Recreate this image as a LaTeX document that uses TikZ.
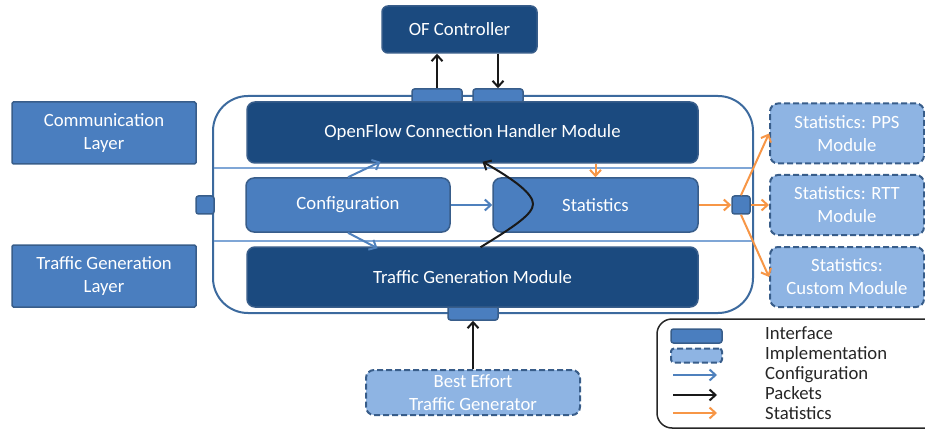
\documentclass[tikz,border=0pt]{standalone}
\usepackage{fontspec}
\setmainfont{Carlito}
\usepackage{tikz}
\usetikzlibrary{arrows.meta, calc}
\definecolor{ModDark}{HTML}{1B4A7F}
\definecolor{ModMid}{HTML}{4A7EBF}
\definecolor{ModLight}{HTML}{8EB4E3}
\definecolor{EdgeBlue}{HTML}{385D8A}
\definecolor{FrameBlue}{HTML}{3C6A9E}
\definecolor{SepBlue}{HTML}{7FA6D6}
\definecolor{CfgBlue}{HTML}{4F81BD}
\definecolor{StatOrange}{HTML}{F79646}
\definecolor{LegendText}{HTML}{262626}
\tikzset{
  darkbox/.style={rectangle, rounded corners=8pt, draw=EdgeBlue, line width=1.5pt, fill=ModDark, text=white, font=\fontsize{18.7}{23}\selectfont, align=center, inner sep=2pt},
  midbox/.style={rectangle, rounded corners=8pt, draw=EdgeBlue, line width=1.5pt, fill=ModMid, text=white, font=\fontsize{18.7}{23}\selectfont, align=center, inner sep=2pt},
  layerbox/.style={midbox, rounded corners=1.5pt},
  implbox/.style={rectangle, rounded corners=8pt, draw=EdgeBlue, line width=2pt, dash pattern=on 6pt off 3pt, fill=ModLight, text=white, font=\fontsize{18.7}{23}\selectfont, align=center, inner sep=2pt},
  ifacebox/.style={rectangle, rounded corners=2.5pt, draw=EdgeBlue, line width=1.5pt, fill=ModMid, inner sep=0pt},
  cfgarrow/.style={-{Straight Barb[length=6pt,width=11pt]}, line width=2pt, CfgBlue},
  pktarrow/.style={-{Straight Barb[length=6pt,width=11pt]}, line width=2pt, black!90},
  statarrow/.style={-{Straight Barb[length=6pt,width=11pt]}, line width=2pt, StatOrange},
  legendtext/.style={anchor=base west, inner sep=0pt, text=LegendText, font=\fontsize{18.7}{20}\selectfont}
}

\begin{document}
\begin{tikzpicture}[x=1pt, y=-1pt]
  \useasboundingbox (0,0) rectangle (925,430);

  % Controller
  \node[darkbox, rounded corners=6pt, minimum width=155pt, minimum height=47pt] (ctrl) at (459.5,29.5) {OF Controller};

  % Container
  \node[rectangle, rounded corners=35pt, draw=FrameBlue, line width=2pt, fill=white, minimum width=540pt, minimum height=217pt] (frame) at (483,204.5) {};
  \draw[SepBlue, line width=1.2pt] (214,168) -- (752,168);
  \draw[SepBlue, line width=1.2pt] (214,241) -- (752,241);

  % Interfaces
  \node[ifacebox, minimum width=50pt, minimum height=14pt] (ifup) at (437,96) {};
  \node[ifacebox, minimum width=50pt, minimum height=14pt] (ifdown) at (498,96) {};
  \node[ifacebox, minimum width=50pt, minimum height=14pt] (ifbottom) at (473,313) {};
  \node[ifacebox, minimum width=18pt, minimum height=18pt] (ifleft) at (205,205) {};
  \node[ifacebox, minimum width=18pt, minimum height=18pt] (ifright) at (741,205) {};

  % Modules
  \node[darkbox, minimum width=451pt, minimum height=61pt] (ofch) at (472.5,132.5) {OpenFlow Connection Handler Module};
  \node[midbox, minimum width=204pt, minimum height=54pt] (config) at (348,205) {Configuration};
  \node[midbox, minimum width=205pt, minimum height=54pt] (stats) at (595.5,205) {Statistics};
  \node[darkbox, minimum width=451pt, minimum height=60pt] (tgm) at (472.5,277) {Traffic Generation Module};

  % Layers
  \node[layerbox, minimum width=184pt, minimum height=62pt] (commlayer) at (104,133) {Communication\\Layer};
  \node[layerbox, minimum width=184pt, minimum height=62pt] (tglayer) at (104,276) {Traffic Generation\\Layer};

  % Implementations
  \node[implbox, minimum width=154pt, minimum height=60pt] (pps) at (847,133.5) {Statistics: PPS\\Module};
  \node[implbox, minimum width=154pt, minimum height=60pt] (rtt) at (847,205) {Statistics: RTT\\Module};
  \node[implbox, minimum width=154pt, minimum height=60pt] (custom) at (847,277) {Statistics:\\Custom Module};
  \node[implbox, minimum width=214pt, minimum height=45pt] (besteffort) at (473,392.5) {Best Effort\\Traffic Generator};

  % Packets
  \draw[pktarrow] (ifup.north) -- (ifup.north |- ctrl.south);
  \draw[pktarrow] (ifdown.north |- ctrl.south) -- (ifdown.north);
  \draw[pktarrow] (besteffort.north) -- (ifbottom.south);
  \draw[pktarrow] ([xshift=8pt,yshift=-1pt]tgm.north) .. controls (515,226) and (533,214) .. (533,204)
    .. controls (533,194) and (515,180) .. ([xshift=10pt,yshift=2pt]ofch.south);

  % Configuration
  \draw[cfgarrow] (config.north) -- ([xshift=-92pt,yshift=2pt]ofch.south);
  \draw[cfgarrow] (config.south) -- ([xshift=-95pt,yshift=-2pt]tgm.north);
  \draw[cfgarrow] (config.east) -- (stats.west);

  % Statistics
  \draw[statarrow] (ofch.south -| stats.north) -- (stats.north);
  \draw[statarrow] (stats.east) -- (ifright.west);
  \draw[statarrow] (ifright.north) -- (pps.west);
  \draw[statarrow] (ifright.east) -- (rtt.west);
  \draw[statarrow] (ifright.south) -- (custom.west);

  % Legend
  \node[rectangle, rounded corners=15pt, draw=black!85, line width=1.5pt, minimum width=290pt, minimum height=109pt] (legend) at (802,373.5) {};
  \node[ifacebox, minimum width=51pt, minimum height=14pt] (legiface) at (696.5,336) {};
  \node[implbox, minimum width=51pt, minimum height=14pt, rounded corners=3pt] (legimpl) at (696.5,355.5) {};
  \coordinate (legcfgA) at (673,375);
  \coordinate (legcfgB) at (717,375);
  \coordinate (legpktA) at (673,395);
  \coordinate (legpktB) at (717,395);
  \coordinate (legstatA) at (673,413);
  \coordinate (legstatB) at (717,413);
  \draw[cfgarrow] (legcfgA) -- (legcfgB);
  \draw[pktarrow] (legpktA) -- (legpktB);
  \draw[statarrow] (legstatA) -- (legstatB);
  \node[legendtext] (legt1) at (765,339) {Interface};
  \node[legendtext] (legt2) at (765,359) {Implementation};
  \node[legendtext] (legt3) at (765,379) {Configuration};
  \node[legendtext] (legt4) at (765,399) {Packets};
  \node[legendtext] (legt5) at (765,419) {Statistics};
\end{tikzpicture}
\end{document}
